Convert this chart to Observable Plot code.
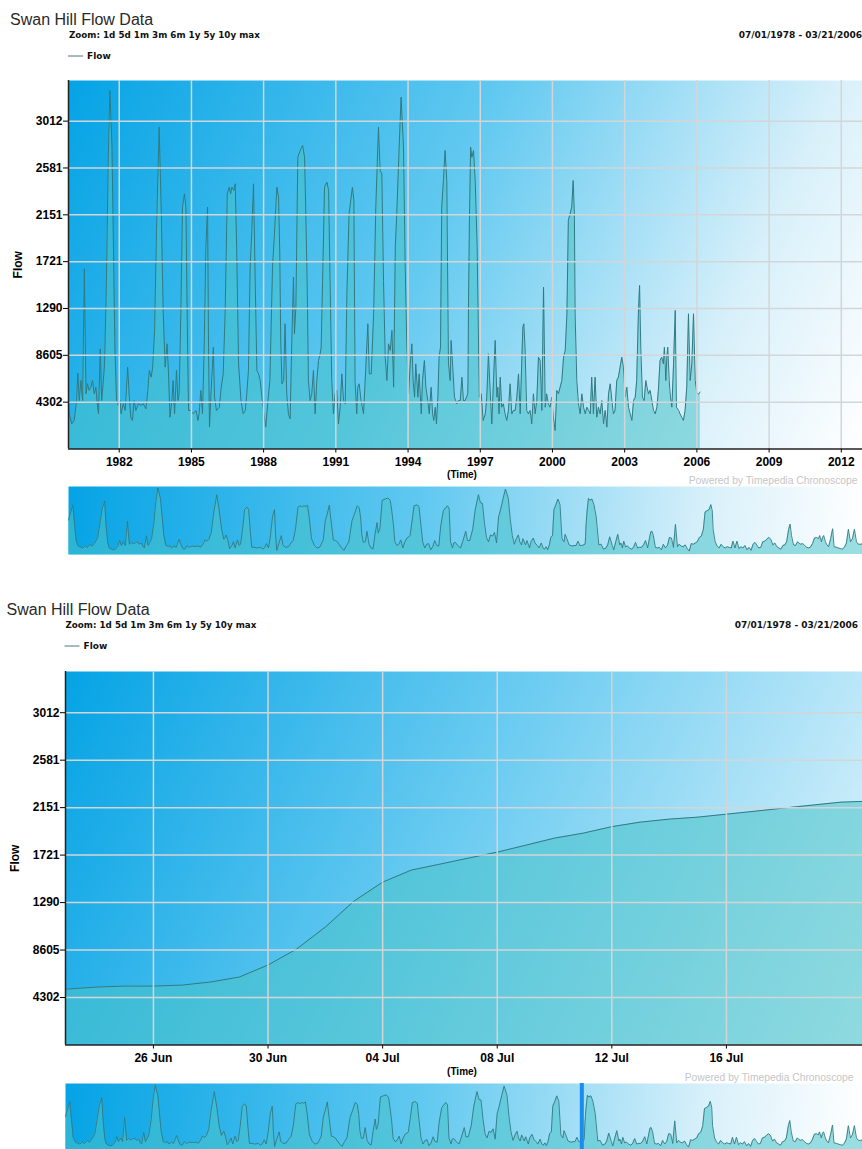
<!DOCTYPE html>
<html>
<head>
<meta charset="utf-8">
<script src="https://cdn.jsdelivr.net/npm/d3@7"></script>
<script src="https://cdn.jsdelivr.net/npm/@observablehq/plot@0.6"></script>
<style>
html,body{margin:0;padding:0;background:#fff;}
#page{position:relative;width:862px;height:1149px;overflow:hidden;font-family:"Liberation Sans",Arial,sans-serif;}
</style>
</head>
<body>
<div id="page"></div>
<script>
// ---------- texts ----------
const titleText = "Swan Hill Flow Data";
const zoomText = "Zoom: 1d 5d 1m 3m 6m 1y 5y 10y max";
const rangeText = "07/01/1978 - 03/21/2006";
const seriesName = "Flow";
const xLabel = "(Time)";
const creditText = "Powered by Timepedia Chronoscope";

// ---------- axis ticks ----------
const yTickValues = [4302, 8605, 12907, 17210, 21512, 25814, 30117];
const yTickLabels = ["4302", "8605", "1290", "1721", "2151", "2581", "3012"];
const yearTicks = [1982, 1985, 1988, 1991, 1994, 1997, 2000, 2003, 2006, 2009, 2012];
const dayTicks = ["1996-06-26", "1996-06-30", "1996-07-04", "1996-07-08", "1996-07-12", "1996-07-16"];

// ---------- flow series (decimal year, flow) ----------
const flowYears = [
  1978.50,1978.58,1978.65,1978.71,1978.77,1978.84,1978.92,1979.00,1979.08,1979.16,1979.25,1979.33,1979.42,1979.52,1979.60,1979.68,1979.76,1979.81,1979.87,
  1979.92,1980.03,1980.13,1980.23,1980.28,1980.34,1980.41,1980.48,1980.55,1980.62,1980.68,1980.75,1980.82,1980.89,1980.96,1981.03,1981.10,1981.14,1981.21,1981.27,1981.34,1981.39,1981.47,1981.54,1981.61,1981.70,1981.75,1981.82,1981.89,1981.97,
  1982.03,1982.08,1982.17,1982.25,1982.35,1982.42,1982.48,1982.55,1982.62,1982.69,1982.80,1982.90,1983.00,1983.11,1983.19,1983.25,1983.33,1983.39,1983.47,1983.55,1983.66,1983.75,1983.83,1983.91,1983.99,
  1984.05,1984.11,1984.19,1984.24,1984.30,1984.38,1984.44,1984.49,1984.56,1984.63,1984.71,1984.77,1984.84,1984.88,1984.98,1985.07,1985.19,1985.27,1985.32,1985.39,1985.46,1985.53,1985.60,1985.67,1985.71,1985.75,1985.82,1985.91,1985.96,
  1986.04,1986.16,1986.24,1986.32,1986.40,1986.49,1986.57,1986.63,1986.68,1986.76,1986.82,1986.88,1986.96,1987.06,1987.15,1987.24,1987.30,1987.37,1987.44,1987.51,1987.58,1987.65,1987.72,1987.79,1987.86,1987.93,
  1988.01,1988.09,1988.18,1988.26,1988.37,1988.45,1988.55,1988.62,1988.67,1988.71,1988.76,1988.83,1988.89,1988.96,1989.03,1989.10,1989.17,1989.24,1989.28,1989.34,1989.42,1989.52,1989.62,1989.70,1989.75,1989.81,1989.86,1989.93,
  1990.00,1990.07,1990.14,1990.21,1990.28,1990.35,1990.39,1990.45,1990.53,1990.63,1990.70,1990.76,1990.83,1990.90,1990.97,1991.04,1991.11,1991.18,1991.25,1991.32,1991.39,1991.46,1991.55,1991.69,1991.75,1991.80,1991.87,1991.91,1991.97,
  1992.05,1992.15,1992.22,1992.33,1992.39,1992.47,1992.57,1992.66,1992.77,1992.84,1992.91,1992.98,1993.05,1993.12,1993.19,1993.26,1993.33,1993.40,1993.47,1993.53,1993.63,1993.71,1993.81,1993.88,1993.95,
  1994.02,1994.09,1994.16,1994.21,1994.27,1994.32,1994.41,1994.46,1994.55,1994.60,1994.68,1994.74,1994.82,1994.88,1994.96,1995.02,1995.07,1995.13,1995.18,1995.24,1995.29,1995.35,1995.40,1995.47,1995.54,1995.61,1995.68,1995.75,1995.79,1995.85,1995.93,
  1996.03,1996.10,1996.17,1996.24,1996.30,1996.37,1996.44,1996.48,1996.49,1996.50,1996.51,1996.53,1996.55,1996.60,1996.65,1996.72,1996.79,1996.87,1996.96,1997.04,1997.12,1997.21,1997.27,1997.34,1997.43,1997.48,1997.55,1997.62,1997.69,1997.73,1997.78,1997.83,1997.89,1997.96,
  1998.03,1998.10,1998.17,1998.24,1998.31,1998.38,1998.45,1998.52,1998.59,1998.66,1998.73,1998.77,1998.81,1998.86,1998.93,1999.00,1999.07,1999.14,1999.21,1999.28,1999.35,1999.42,1999.49,1999.56,1999.63,1999.70,1999.76,1999.83,1999.90,1999.97,
  2000.04,2000.11,2000.18,2000.25,2000.32,2000.39,2000.46,2000.53,2000.60,2000.66,2000.73,2000.80,2000.86,2000.91,2000.94,2001.01,2001.08,2001.15,2001.22,2001.29,2001.36,2001.43,2001.50,2001.57,2001.63,2001.70,2001.77,2001.84,2001.91,2001.98,
  2002.05,2002.12,2002.19,2002.26,2002.33,2002.40,2002.47,2002.53,2002.60,2002.67,2002.74,2002.81,2002.88,2002.95,2003.02,2003.09,2003.16,2003.23,2003.30,2003.37,2003.44,2003.50,2003.57,2003.62,2003.67,2003.74,2003.81,2003.88,2003.93,2003.99,
  2004.06,2004.13,2004.20,2004.27,2004.34,2004.40,2004.47,2004.54,2004.61,2004.65,2004.71,2004.75,2004.79,2004.85,2004.90,2004.96,2005.03,2005.10,2005.15,2005.24,2005.30,2005.37,2005.44,2005.51,2005.58,2005.65,2005.72,2005.79,2005.86,2005.93,2006.00,2006.07,2006.14
];
const flowValues = [
  17000,21000,24500,15000,6500,4200,3600,3200,4300,3500,5000,4200,5800,8500,16000,23000,26500,14000,5500,
  3230,2310,2620,4450,6970,4450,6290,4450,16550,5070,5990,5380,5680,6290,5070,5680,3840,3230,9200,4450,6290,7820,15480,26200,32930,27730,20070,9350,4450,4000,
  4450,3230,4150,3540,7520,4760,2920,2620,4450,3540,4150,4000,4150,3690,5380,7210,6600,7520,10890,20070,29560,21600,12420,7520,9660,
  6900,2920,4450,6290,3230,7210,4450,5070,12420,22220,23440,22220,9350,3540,3540,3230,3540,2620,3230,5380,3230,9350,18540,22220,9350,2010,5380,9350,4760,
  3540,3840,5680,6900,12420,23440,24050,23440,24050,23750,24360,18540,7820,4450,3230,3540,5070,7210,16700,20070,24360,15480,7210,6900,6290,4760,
  3230,2010,4450,6290,16700,19770,24050,23140,18000,10000,5990,6290,11500,5070,3230,2770,9970,15790,10580,13030,26800,27420,27880,26800,21910,14870,6290,4450,
  5070,7210,3230,6290,8130,8740,9350,15480,24050,24510,23750,15480,6290,3230,5070,5380,2310,3840,6900,4450,4150,14240,21600,24050,22830,6290,3230,5680,5990,
  4450,3230,6290,11500,6900,6900,12420,22220,29560,25580,25270,15480,8430,6290,9660,9050,10890,5680,18540,21600,27730,32320,27730,17010,9350,
  5070,7820,9660,6290,4760,7820,4760,6900,3230,6290,8130,5680,4450,3230,5680,3230,2620,3840,2310,4760,8430,9350,22220,24660,27420,24660,7820,6290,9970,7820,4760,
  4150,4450,4450,6600,4450,4450,4800,5100,6200,8700,13000,16900,21000,27730,26800,27420,24660,18540,4760,5070,2620,3230,4760,8740,4450,2310,6290,9970,4760,5680,3230,6600,3840,4150,
  3230,2620,3540,5990,3230,3540,3540,4760,6900,3230,8430,11190,11500,9350,3540,3230,3540,2310,5070,3230,4450,8430,8130,3540,14870,3840,5070,4150,3840,4760,
  2920,1700,5380,5070,5680,6290,8430,9050,12420,21000,21600,22220,24660,21600,12420,6290,4150,3230,5070,3840,3230,3840,3540,3230,6600,3230,6600,2920,3840,3230,
  4450,2310,3540,2010,5070,5990,4450,3230,3540,6290,6600,7520,8430,7520,4760,5680,3840,3230,2620,4450,4760,6290,12420,15030,9350,4760,4450,6290,5680,5070,
  5380,4450,3540,3230,3840,5380,8130,8430,7820,9350,6290,8430,9350,6290,4760,3840,7820,12730,3840,3540,3230,2920,2620,3540,5680,12420,6290,7820,12420,6290,5070,5070,5220
];

// ---------- zoomed view: daily flow, late June - July 1996 ----------
const zoomDays = ["1996-06-22","1996-06-23","1996-06-24","1996-06-25","1996-06-26","1996-06-27","1996-06-28","1996-06-29","1996-06-30",
  "1996-07-01","1996-07-02","1996-07-03","1996-07-04","1996-07-05","1996-07-06","1996-07-07","1996-07-08","1996-07-09","1996-07-10",
  "1996-07-11","1996-07-12","1996-07-13","1996-07-14","1996-07-15","1996-07-16","1996-07-17","1996-07-18","1996-07-19","1996-07-20","1996-07-21"];
const zoomFlows = [5000,5070,5250,5340,5340,5430,5710,6160,7250,
  8700,10690,13040,14760,15850,16390,16940,17480,18110,18750,
  19200,19790,20200,20470,20650,20920,21190,21470,21740,22010,22100];

// ---------- helpers ----------
function decYear(y) {
  const Y = Math.floor(y);
  const s = Date.UTC(Y, 0, 1), e = Date.UTC(Y + 1, 0, 1);
  return new Date(s + (y - Y) * (e - s));
}
const n = Math.min(flowYears.length, flowValues.length);
const series = d3.range(n).map(i => ({date: decYear(flowYears[i]), flow: flowValues[i]}));
const zoomSeries = zoomDays.map((d, i) => ({date: new Date(d + "T00:00:00Z"), flow: zoomFlows[i]}));
const yLabelOf = new Map(yTickValues.map((v, i) => [v, yTickLabels[i]]));
const yearTickDates = yearTicks.map(y => new Date(Date.UTC(y, 0, 1)));
const dayTickDates = dayTicks.map(d => new Date(d + "T00:00:00Z"));
const fullDomain = [series[0].date, series[series.length - 1].date];
const zoomWindowStart = new Date("1996-06-23T00:00:00Z");

function gradientMark(id, stops) {
  return (index, scales, values, dim) => {
    const NS = "http://www.w3.org/2000/svg";
    const defs = document.createElementNS(NS, "defs");
    const g = document.createElementNS(NS, "linearGradient");
    g.setAttribute("id", id);
    g.setAttribute("gradientUnits", "userSpaceOnUse");
    g.setAttribute("x1", dim.marginLeft);
    g.setAttribute("y1", dim.marginTop);
    g.setAttribute("x2", dim.width - dim.marginRight);
    g.setAttribute("y2", dim.height - dim.marginBottom);
    for (const [o, c] of stops) {
      const s = document.createElementNS(NS, "stop");
      s.setAttribute("offset", o);
      s.setAttribute("stop-color", c);
      g.appendChild(s);
    }
    defs.appendChild(g);
    return defs;
  };
}

const AREA_FILL = "#48c2c8", AREA_OP = 0.55, LINE = "#327a83";
const GRID = "#d3d6d8";

function mainChart(o) {
  return Plot.plot({
    width: 862, height: o.height,
    marginLeft: o.left, marginRight: 0, marginTop: o.top, marginBottom: o.bottom,
    style: {background: "transparent", fontFamily: "Liberation Sans, Arial, sans-serif", fontSize: "12px", fontWeight: "bold", overflow: "visible"},
    x: {type: "utc", domain: o.xDomain, axis: null},
    y: {domain: [0, 33850], axis: null},
    marks: [
      gradientMark(o.id, o.stops),
      Plot.frame({fill: `url(#${o.id})`, stroke: "none"}),
      Plot.areaY(o.data, {x: "date", y: "flow", fill: AREA_FILL, fillOpacity: AREA_OP, clip: true}),
      Plot.lineY(o.data, {x: "date", y: "flow", stroke: LINE, strokeWidth: 1, clip: true}),
      Plot.gridX(o.xTicks, {stroke: GRID, strokeOpacity: 1, strokeWidth: 1.5}),
      Plot.gridY(yTickValues, {stroke: GRID, strokeOpacity: 1, strokeWidth: 1.5}),
      Plot.axisX(o.xTicks, {tickFormat: o.xFormat, tickSize: 4, tickPadding: 4, label: null, fontSize: 12}),
      Plot.axisY(yTickValues, {tickFormat: d => yLabelOf.get(d), tickSize: 5, tickPadding: 1, label: null, fontSize: 12}),
      Plot.ruleX([o.xDomain[0]], {stroke: "#222", strokeWidth: 1.5}),
      Plot.ruleY([0], {stroke: "#222", strokeWidth: 1.5}),
      Plot.text([seriesName], {text: d => d, frameAnchor: "left", dx: -50, rotate: -90, textAnchor: "middle", fontSize: 12}),
      Plot.text([xLabel], {text: d => d, frameAnchor: "bottom", dx: o.timeDx, dy: o.timeDy, fontSize: 10}),
      Plot.text([creditText], {text: d => d, frameAnchor: "bottom-right", dx: o.creditDx, dy: o.creditDy, textAnchor: "end", fill: "#c6c6c6", fontSize: 10.3, fontWeight: "normal"})
    ]
  });
}

function navChart(o) {
  return Plot.plot({
    width: 862, height: o.height,
    marginLeft: o.left, marginRight: 0, marginTop: 0, marginBottom: 0,
    style: {background: "transparent", overflow: "visible"},
    x: {type: "utc", domain: fullDomain, axis: null},
    y: {domain: [0, 33600], axis: null},
    marks: [
      gradientMark(o.id, o.stops),
      Plot.frame({fill: `url(#${o.id})`, stroke: "none"}),
      Plot.areaY(series, {x: "date", y: "flow", fill: AREA_FILL, fillOpacity: AREA_OP, clip: true}),
      Plot.lineY(series, {x: "date", y: "flow", stroke: LINE, strokeWidth: 0.9, clip: true}),
      ...(o.extra || [])
    ]
  });
}

const page = document.getElementById("page");
function place(el, top) {
  el.style.position = "absolute";
  el.style.left = "0px";
  el.style.top = top + "px";
  page.appendChild(el);
}

// ---------- headers ----------
const hdr = d3.create("svg").attr("width", 862).attr("height", 1149);
function addHeader(dx, dy, rightX) {
  hdr.append("text").attr("x", 10 + dx).attr("y", 25 + dy)
    .attr("font-family", "Liberation Sans, Arial, sans-serif").attr("font-size", 16).attr("fill", "#2a2a2a").text(titleText);
  hdr.append("text").attr("x", 69 + dx).attr("y", 37.5 + dy)
    .attr("font-family", "DejaVu Sans, sans-serif").attr("font-weight", "bold").attr("font-size", 8.75).attr("fill", "#111").text(zoomText);
  hdr.append("text").attr("x", rightX).attr("y", 37.5 + dy).attr("text-anchor", "end")
    .attr("font-family", "DejaVu Sans, sans-serif").attr("font-weight", "bold").attr("font-size", 9).attr("fill", "#111").text(rangeText);
  hdr.append("line").attr("x1", 68 + dx).attr("x2", 83 + dx).attr("y1", 56 + dy).attr("y2", 56 + dy)
    .attr("stroke", "#4f7479").attr("stroke-width", 1);
  hdr.append("text").attr("x", 87 + dx).attr("y", 59 + dy)
    .attr("font-family", "DejaVu Sans, sans-serif").attr("font-weight", "bold").attr("font-size", 9).attr("fill", "#111").text(seriesName);
}
addHeader(0, 0, 862);
addHeader(-3.5, 590, 858);
place(hdr.node(), 0);

// ---------- panel 1 ----------
const stops1 = [[0, "#05a3e5"], [0.45, "#62c9f0"], [0.8, "#d8f0fa"], [1, "#ffffff"]];
place(mainChart({
  id: "bg1", stops: stops1, height: 414, left: 68, top: 4, bottom: 41.5,
  xDomain: [decYear(1979.894), decYear(2012.88)], xTicks: yearTickDates, xFormat: d3.utcFormat("%Y"),
  data: series, timeDx: -3.5, timeDy: 28.5, creditDx: -5, creditDy: 34.5
}), 76);
place(navChart({id: "nav1", stops: stops1, height: 68, left: 68}), 486);

// ---------- panel 2 ----------
const stops2 = [[0, "#05a3e5"], [0.5, "#6fcdf1"], [1, "#e4f5fc"]];
place(mainChart({
  id: "bg2", stops: stops2, height: 423, left: 65, top: 4, bottom: 45.5,
  xDomain: [new Date("1996-06-22T22:20:00Z"), new Date("1996-07-20T18:00:00Z")], xTicks: dayTickDates, xFormat: d3.utcFormat("%d %b"),
  data: zoomSeries, timeDx: -2, timeDy: 30, creditDx: -9, creditDy: 36
}), 667);
place(navChart({
  id: "nav2", stops: stops1, height: 67, left: 65,
  extra: [Plot.ruleX([zoomWindowStart], {stroke: "#1a8cf0", strokeWidth: 4, dx: -2})]
}), 1083);
</script>
</body>
</html>
